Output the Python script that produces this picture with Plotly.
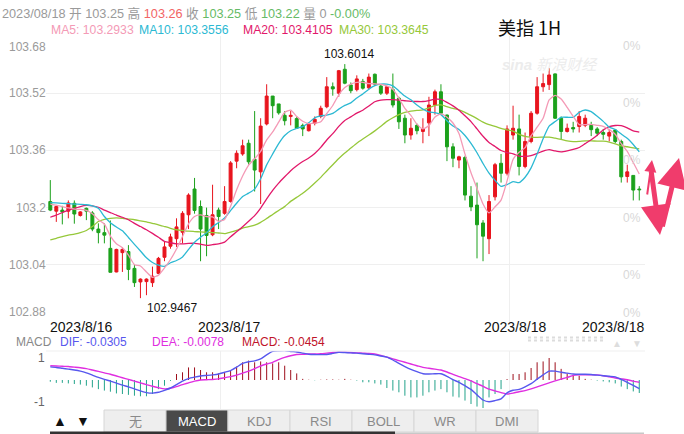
import plotly.graph_objects as go
import pandas as pd

W, H = 684, 434

# ---------------- data ----------------
opens = [103.217, 103.190, 103.193, 103.190, 103.212, 103.178, 103.198, 103.185, 103.140, 103.130,
         103.086, 103.020, 103.074, 103.077, 103.030, 102.992, 102.993, 102.990, 103.016, 103.061,
         103.092, 103.113, 103.131, 103.180, 103.252, 103.203, 103.178, 103.124, 103.193, 103.184,
         103.217, 103.330, 103.350, 103.380, 103.335, 103.300, 103.434, 103.512, 103.490, 103.458,
         103.455, 103.449, 103.430, 103.415, 103.436, 103.455, 103.482, 103.538, 103.520, 103.587,
         103.543, 103.530, 103.553, 103.535, 103.573, 103.540, 103.520, 103.530, 103.506, 103.450,
         103.403, 103.430, 103.413, 103.437, 103.487, 103.524, 103.459, 103.370, 103.333, 103.340,
         103.232, 103.207, 103.157, 103.113, 103.230, 103.324, 103.296, 103.403, 103.420, 103.315,
         103.385, 103.464, 103.538, 103.544, 103.574, 103.450, 103.413, 103.424, 103.427, 103.430,
         103.430, 103.420, 103.410, 103.400, 103.417, 103.385, 103.287, 103.290, 103.252]
highs = [103.277, 103.205, 103.205, 103.220, 103.220, 103.190, 103.200, 103.190, 103.156, 103.156,
         103.164, 103.085, 103.089, 103.095, 103.040, 103.002, 103.002, 103.035, 103.062, 103.105,
         103.127, 103.170, 103.190, 103.240, 103.283, 103.220, 103.200, 103.264, 103.200, 103.260,
         103.330, 103.360, 103.390, 103.390, 103.470, 103.450, 103.545, 103.512, 103.490, 103.470,
         103.470, 103.455, 103.435, 103.435, 103.455, 103.485, 103.565, 103.550, 103.585, 103.6014,
         103.550, 103.570, 103.560, 103.575, 103.575, 103.545, 103.540, 103.575, 103.510, 103.460,
         103.450, 103.435, 103.450, 103.510, 103.530, 103.545, 103.460, 103.380, 103.345, 103.345,
         103.260, 103.270, 103.165, 103.235, 103.325, 103.350, 103.430, 103.485, 103.460, 103.410,
         103.470, 103.565, 103.575, 103.590, 103.575, 103.455, 103.435, 103.440, 103.470, 103.460,
         103.440, 103.425, 103.420, 103.420, 103.420, 103.390, 103.320, 103.290, 103.260]
lows = [103.190, 103.160, 103.153, 103.170, 103.155, 103.175, 103.165, 103.134, 103.100, 103.100,
        103.019, 103.019, 103.020, 102.997, 102.978, 102.9467, 102.955, 102.978, 103.015, 103.050,
        103.085, 103.090, 103.100, 103.140, 103.183, 103.050, 103.064, 103.120, 103.140, 103.180,
        103.214, 103.310, 103.345, 103.320, 103.245, 103.210, 103.430, 103.450, 103.460, 103.430,
        103.430, 103.420, 103.400, 103.413, 103.430, 103.450, 103.478, 103.513, 103.510, 103.545,
        103.520, 103.525, 103.530, 103.530, 103.540, 103.515, 103.515, 103.480, 103.420, 103.380,
        103.390, 103.405, 103.380, 103.400, 103.460, 103.460, 103.330, 103.313, 103.310, 103.220,
        103.190, 103.058, 103.050, 103.070, 103.220, 103.270, 103.290, 103.390, 103.290, 103.310,
        103.380, 103.460, 103.524, 103.529, 103.448, 103.390, 103.410, 103.410, 103.410, 103.425,
        103.400, 103.400, 103.390, 103.385, 103.380, 103.270, 103.270, 103.220, 103.220]
closes = [103.193, 103.203, 103.188, 103.213, 103.182, 103.188, 103.190, 103.140, 103.130, 103.123,
          103.019, 103.083, 103.083, 103.027, 102.990, 103.000, 103.000, 103.008, 103.058, 103.090,
          103.118, 103.146, 103.184, 103.235, 103.192, 103.140, 103.122, 103.180, 103.175, 103.217,
          103.325, 103.352, 103.373, 103.328, 103.305, 103.428, 103.512, 103.485, 103.465, 103.443,
          103.458, 103.422, 103.420, 103.433, 103.447, 103.478, 103.538, 103.532, 103.583, 103.548,
          103.527, 103.560, 103.534, 103.565, 103.545, 103.520, 103.538, 103.487, 103.440, 103.403,
          103.422, 103.415, 103.420, 103.487, 103.524, 103.464, 103.370, 103.338, 103.342, 103.235,
          103.202, 103.152, 103.120, 103.217, 103.320, 103.296, 103.420, 103.422, 103.315, 103.385,
          103.464, 103.538, 103.547, 103.571, 103.450, 103.413, 103.422, 103.420, 103.455, 103.450,
          103.418, 103.408, 103.405, 103.410, 103.385, 103.286, 103.300, 103.249, 103.250]

# moving-average values before a full window is available
ma5_lead = [103.210, 103.207, 103.203, 103.199]
ma10_lead = [103.214, 103.213, 103.212, 103.211, 103.210, 103.209, 103.208, 103.205, 103.198]
ma20_lead = [103.173, 103.179, 103.186, 103.193, 103.198, 103.203, 103.206, 103.205, 103.201, 103.193,
             103.186, 103.179, 103.173, 103.166, 103.156, 103.147, 103.138, 103.128, 103.117]
ma30_lead = [103.110, 103.114, 103.119, 103.123, 103.126, 103.130, 103.136, 103.147, 103.161, 103.167,
             103.170, 103.171, 103.170, 103.168, 103.166, 103.163, 103.160, 103.156, 103.152, 103.147,
             103.142, 103.138, 103.136, 103.134, 103.133, 103.132, 103.131, 103.130, 103.129]

dif = [0.046, 0.044, 0.041, 0.038, 0.035, 0.031, 0.025, 0.017, 0.009, 0.002,
       -0.004, -0.011, -0.018, -0.024, -0.031, -0.038, -0.044, -0.046, -0.043, -0.036,
       -0.028, -0.016, -0.004, 0.005, 0.010, 0.014, 0.016, 0.018, 0.021, 0.027,
       0.033, 0.045, 0.058, 0.064, 0.067, 0.074, 0.088, 0.100, 0.102, 0.103,
       0.100, 0.098, 0.094, 0.090, 0.089, 0.089, 0.089, 0.093, 0.097, 0.096,
       0.095, 0.094, 0.092, 0.090, 0.088, 0.084, 0.080, 0.070, 0.058, 0.047,
       0.037, 0.029, 0.022, 0.021, 0.022, 0.022, 0.013, 0.001, -0.008, -0.020,
       -0.033, -0.052, -0.070, -0.076, -0.072, -0.066, -0.045, -0.036, -0.033, -0.024,
       -0.013, 0.003, 0.018, 0.031, 0.031, 0.027, 0.024, 0.021, 0.020, 0.020,
       0.019, 0.017, 0.015, 0.013, 0.011, 0.002, -0.008, -0.019, -0.0305]
dea = [0.050, 0.049, 0.048, 0.047, 0.045, 0.043, 0.040, 0.035, 0.030, 0.025,
       0.020, 0.014, 0.008, 0.002, -0.004, -0.010, -0.016, -0.022, -0.027, -0.031,
       -0.029, -0.023, -0.016, -0.010, -0.004, 0.000, 0.001, 0.002, 0.004, 0.008,
       0.012, 0.017, 0.024, 0.031, 0.040, 0.049, 0.056, 0.062, 0.071, 0.079,
       0.085, 0.089, 0.090, 0.091, 0.091, 0.092, 0.094, 0.096, 0.097, 0.097,
       0.096, 0.095, 0.094, 0.093, 0.091, 0.086, 0.080, 0.074, 0.068, 0.062,
       0.056, 0.050, 0.044, 0.041, 0.038, 0.035, 0.028, 0.020, 0.012, 0.005,
       -0.003, -0.013, -0.022, -0.032, -0.038, -0.044, -0.049, -0.046, -0.041, -0.037,
       -0.031, -0.024, -0.017, -0.010, -0.003, 0.003, 0.009, 0.016, 0.018, 0.018,
       0.018, 0.018, 0.015, 0.011, 0.007, 0.004, 0.001, -0.004, -0.0078]
macd_hist = [-0.006, -0.010, -0.010, -0.012, -0.014, -0.016, -0.020, -0.026, -0.032, -0.037,
             -0.041, -0.047, -0.049, -0.052, -0.055, -0.057, -0.057, -0.049, -0.032, -0.020,
             -0.003, 0.021, 0.027, 0.044, 0.044, 0.035, 0.027, 0.027, 0.023, 0.027,
             0.035, 0.047, 0.062, 0.068, 0.062, 0.065, 0.062, 0.058, 0.062, 0.050,
             0.035, 0.023, 0.004, 0.001, -0.001, 0.001, 0.002, 0.002, 0.001, 0.004,
             0.001, -0.002, -0.008, -0.008, -0.012, -0.016, -0.028, -0.037, -0.043, -0.055,
             -0.061, -0.061, -0.055, -0.043, -0.037, -0.032, -0.043, -0.058, -0.061, -0.072,
             -0.084, -0.093, -0.098, -0.061, -0.049, -0.032, 0.003, 0.021, 0.021, 0.027,
             0.042, 0.062, 0.065, 0.077, 0.062, 0.039, 0.023, 0.015, 0.015, 0.004,
             0.001, -0.002, -0.005, -0.008, -0.012, -0.023, -0.032, -0.040, -0.0454]

header_date = "2023/08/18"
header_ma_text = ["MA5: 103.2933", "MA10: 103.3556", "MA20: 103.4105", "MA30: 103.3645"]
header_change = "-0.00%"
header_volume = "0"
price_ticks = [102.88, 103.04, 103.2, 103.36, 103.52, 103.68]
price_tick_text = ["102.88", "103.04", "103.2", "103.36", "103.52", "103.68"]
day_breaks = [28.25, 76.4]
date_labels = ["2023/8/16", "2023/8/17", "2023/8/18", "2023/8/18"]
date_label_x = [-0.3, 29.7, 77.4, 98.9]
macd_ticks = [0.076, -0.076]
macd_tick_text = ["1", "-1"]
buttons = ["无", "MACD", "KDJ", "RSI", "BOLL", "WR", "DMI"]
active_button = "MACD"

# ---------------- styles ----------------
RED = "#e8151e"
GREEN = "#1ca11c"
C_MA5, C_MA10, C_MA20, C_MA30 = "#f49ab6", "#2cb9d3", "#e2186a", "#96c83a"
C_DIF, C_DEA = "#5757ee", "#e02ee0"
C_HPOS, C_HNEG = "#9e0f1c", "#22a38a"
GRID = "#efefef"
FONT = "Liberation Sans, Arial, Noto Sans CJK SC, sans-serif"

n = len(closes)
idx = list(range(n))
cs = pd.Series(closes)


def ma(win, lead):
    s = cs.rolling(win).mean().tolist()
    return lead + s[len(lead):]


ma5, ma10, ma20, ma30 = ma(5, ma5_lead), ma(10, ma10_lead), ma(20, ma20_lead), ma(30, ma30_lead)


def px(x):
    return x / W


def py(y):
    return 1 - y / H


X0, X1 = 46, 645           # plot area in pixels
CX0, STEP = 50.3, 6.01     # first candle centre, spacing
xr = [(X0 - CX0) / STEP, (X1 - CX0) / STEP]

fig = go.Figure()
fig.add_trace(go.Candlestick(
    x=idx, open=opens, high=highs, low=lows, close=closes,
    increasing=dict(line=dict(color=RED, width=1), fillcolor=RED),
    decreasing=dict(line=dict(color=GREEN, width=1), fillcolor=GREEN),
    whiskerwidth=0, showlegend=False, hoverinfo="skip", xaxis="x", yaxis="y"))
for vals, col in [(ma30, C_MA30), (ma20, C_MA20), (ma10, C_MA10), (ma5, C_MA5)]:
    fig.add_trace(go.Scatter(x=idx, y=vals, mode="lines",
                             line=dict(color=col, width=1.3, shape="spline", smoothing=0.5),
                             showlegend=False, hoverinfo="skip", xaxis="x", yaxis="y"))

# MACD histogram as thin vertical sticks
for col, pos in [(C_HPOS, True), (C_HNEG, False)]:
    hx, hy = [], []
    for i, v in enumerate(macd_hist):
        if (v >= 0) == pos:
            hx += [i, i, None]
            hy += [0, v, None]
    fig.add_trace(go.Scatter(x=hx, y=hy, mode="lines", line=dict(color=col, width=1),
                             showlegend=False, hoverinfo="skip", xaxis="x2", yaxis="y2"))
fig.add_trace(go.Scatter(x=idx, y=dea, mode="lines", line=dict(color=C_DEA, width=1.4, shape="spline", smoothing=0.6),
                         showlegend=False, hoverinfo="skip", xaxis="x2", yaxis="y2"))
fig.add_trace(go.Scatter(x=idx, y=dif, mode="lines", line=dict(color=C_DIF, width=1.4, shape="spline", smoothing=0.6),
                         showlegend=False, hoverinfo="skip", xaxis="x2", yaxis="y2"))

ann = []


def text(x, y, s, color="#999999", size=12, xanchor="left", yanchor="middle", family=FONT, **kw):
    ann.append(dict(x=px(x), y=py(y), xref="paper", yref="paper", text=s, showarrow=False,
                    xanchor=xanchor, yanchor=yanchor, font=dict(color=color, size=size, family=family), **kw))


# header
G, R_, Gr = "#9a9a9a", "#f26565", "#66bb66"
last = n - 1
row1 = (f'<span style="color:{G}">{header_date} 开 {opens[last]:.2f} 高 </span>'
        f'<span style="color:{R_}">{highs[last]:.2f}</span>'
        f'<span style="color:{G}"> 收 </span><span style="color:{Gr}">{closes[last]:.2f}</span>'
        f'<span style="color:{G}"> 低 </span><span style="color:{Gr}">{lows[last]:.2f}</span>'
        f'<span style="color:{G}"> 量 {header_volume} </span><span style="color:{Gr}">{header_change}</span>')
text(0, 13, row1, size=12.7)
for xx, t, col in zip([49, 137, 241, 337], header_ma_text, [C_MA5, C_MA10, C_MA20, C_MA30]):
    text(xx, 30, t, color=col, size=12.2)
text(529, 27, "美指 1H", color="#111111", size=18, xanchor="center",
     family="Noto Sans CJK SC, Liberation Sans, sans-serif")
text(550, 65, "<i><b>sina</b> 新浪财经</i>", color="#ececec", size=15, xanchor="center")

# y tick labels (left) and 0% (right)
for v, t in zip(price_ticks, price_tick_text):
    if v == price_ticks[-1]:
        ya, ys = "top", -2
    elif v == price_ticks[0]:
        ya, ys = "bottom", 1
    else:
        ya, ys = "middle", 0
    ann.append(dict(x=px(48), y=v, xref="paper", yref="y", text=t, showarrow=False, xanchor="right",
                    yanchor=ya, yshift=ys, font=dict(color="#9a9a9a", size=12, family=FONT)))
    ra, rs = ("bottom", 0) if v == price_ticks[0] else ("top", -1)
    ann.append(dict(x=px(643), y=v, xref="paper", yref="y", text="0%", showarrow=False, xanchor="right",
                    yanchor=ra, yshift=rs, font=dict(color="#d8d8d8", size=12, family=FONT)))

# high / low labels
hi_i = max(range(n), key=lambda i: highs[i])
lo_i = min(range(n), key=lambda i: lows[i])
ann.append(dict(x=hi_i, y=highs[hi_i], xref="x", yref="y", text=f"{highs[hi_i]:.4f}", showarrow=False,
                xanchor="center", yanchor="bottom", xshift=4, yshift=1,
                font=dict(color="#111111", size=12, family=FONT)))
ann.append(dict(x=lo_i, y=lows[lo_i], xref="x", yref="y", text=f"{lows[lo_i]:.4f}", showarrow=False,
                xanchor="left", yanchor="top", xshift=5, yshift=-1,
                font=dict(color="#111111", size=12, family=FONT)))

# date labels
for i, (t, xv) in enumerate(zip(date_labels, date_label_x)):
    xa = "left" if i == 0 else ("right" if i == len(date_labels) - 1 else "center")
    ann.append(dict(x=xv, y=py(327), xref="x", yref="paper", text=t, showarrow=False, xanchor=xa,
                    yanchor="middle", borderpad=0, font=dict(color="#111111", size=14, family=FONT)))

# MACD header
text(14, 342, "MACD", color="#888888")
text(58, 342, f"DIF: {dif[-1]:.4f}", color=C_DIF)
text(150, 342, f"DEA: {dea[-1]:.4f}", color=C_DEA)
text(240, 342, f"MACD: {macd_hist[-1]:.4f}", color="#c0142a")
text(617, 343, "▲", color="#dddddd", size=10, xanchor="center", borderpad=0)
text(637, 343, "▼", color="#dddddd", size=10, xanchor="center", borderpad=0)
for v, t in zip(macd_ticks, macd_tick_text):
    ann.append(dict(x=px(47), y=v, xref="paper", yref="y2", text=t, showarrow=False, xanchor="right",
                    yanchor="middle", font=dict(color="#666666", size=12, family=FONT)))

# buttons
shapes = []
text(60, 421, "▲", color="#111111", size=14, xanchor="center")
text(83, 421, "▼", color="#111111", size=14, xanchor="center")
bx, bw = 104, 62
for i, b in enumerate(buttons):
    x0 = bx + i * bw
    act = b == active_button
    shapes.append(dict(type="rect", xref="paper", yref="paper", x0=px(x0), x1=px(x0 + bw), y0=py(432), y1=py(410),
                       fillcolor="#4a4a4a" if act else "#eeeeee", line=dict(color="#d6d6d6", width=1)))
    text(x0 + bw / 2, 421, b, color="#ffffff" if act else "#8a8a8a", size=13, xanchor="center")
shapes.append(dict(type="rect", xref="paper", yref="paper", x0=px(50), x1=px(395), y0=py(434), y1=py(431.5),
                   fillcolor="#333333", line=dict(width=0)))
shapes.append(dict(type="rect", xref="paper", yref="paper", x0=px(395), x1=px(644), y0=py(434), y1=py(432.5),
                   fillcolor="#c8c8c8", line=dict(width=0)))
# MACD panel top line
shapes.append(dict(type="line", xref="paper", yref="paper", x0=px(X0), x1=px(X1), y0=py(351), y1=py(351),
                   line=dict(color=GRID, width=1)))
# scroll dots
for yy in (337.5, 340.5):
    shapes.append(dict(type="line", xref="paper", yref="paper", x0=px(528), x1=px(605), y0=py(yy), y1=py(yy),
                       line=dict(color="#dcdcdc", width=2, dash="dot")))

# red arrows (annotation marks)
ARW = "#f03c6c"
for hx_, hy_, tx, ty, wd, sz in [(652, 160, 647, 196, 2, 1.2), (660, 235, 651, 170, 5, 1.2),
                                 (679, 158, 662, 228, 5, 1.2)]:
    ann.append(dict(x=px(hx_), y=py(hy_), xref="paper", yref="paper", ax=tx - hx_, ay=ty - hy_, text="",
                    showarrow=True, arrowhead=2, arrowsize=sz, arrowwidth=wd, arrowcolor=ARW))

fig.update_layout(
    width=W, height=H, margin=dict(l=0, r=0, t=0, b=0),
    paper_bgcolor="white", plot_bgcolor="white", showlegend=False,
    xaxis=dict(domain=[px(X0), px(X1)], range=xr, tickvals=day_breaks, showticklabels=False, ticks="",
               showgrid=True, gridcolor=GRID, gridwidth=1, zeroline=False, showline=False,
               rangeslider=dict(visible=False), anchor="y"),
    yaxis=dict(domain=[py(322), py(36)], range=[price_ticks[0], price_ticks[-1]], tickvals=price_ticks,
               showticklabels=False, ticks="", showgrid=True, gridcolor=GRID, zeroline=False, showline=False,
               anchor="x"),
    xaxis2=dict(domain=[px(X0), px(X1)], range=xr, tickvals=day_breaks, showticklabels=False, ticks="",
                showgrid=True, gridcolor=GRID, zeroline=False, showline=False, anchor="y2"),
    yaxis2=dict(domain=[py(409), py(351)], range=[-0.1015, 0.1015], showticklabels=False, ticks="",
                showgrid=False, zeroline=False, showline=False, anchor="x2"),
    annotations=ann, shapes=shapes,
)
fig.write_html("out.html")
